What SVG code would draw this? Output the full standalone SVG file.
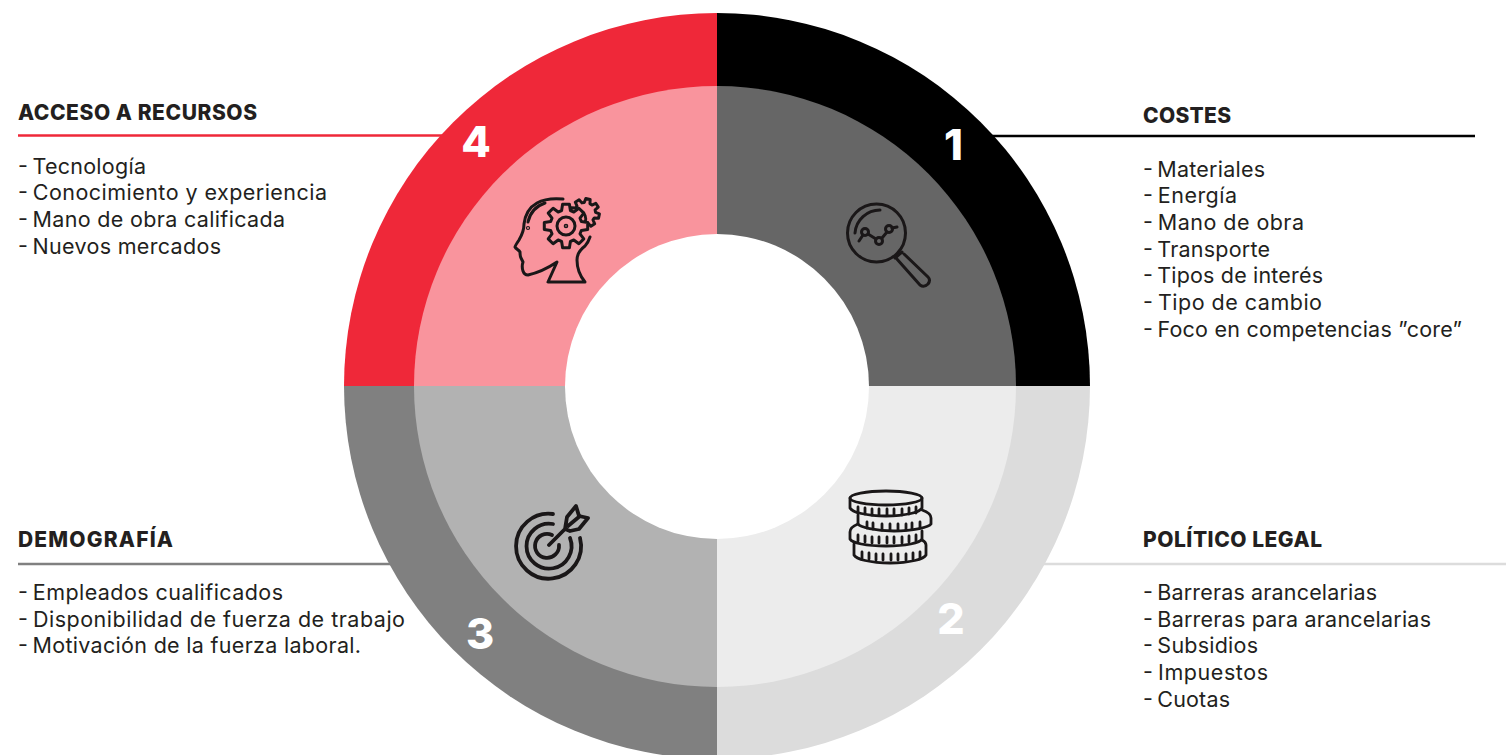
<svg xmlns="http://www.w3.org/2000/svg" width="1506" height="755" viewBox="0 0 1506 755">
<style>
text{font-family:"Inter","Liberation Sans",sans-serif;fill:#231f20}
.h{font-size:21px;font-weight:800}
.t{font-size:21.500px;font-weight:400}
.n{font-size:43px;font-weight:800;fill:#fff}
.i{fill:none;stroke:#1a1718;stroke-width:3;stroke-linecap:round;stroke-linejoin:round}
</style>
<defs>
<path id="gear" d="M15.4-4.4L21.700-3.400L21.700 3.400L15.400 4.400L14 7.800L17.800 12.900L12.900 17.800L7.800 14L4.400 15.400L3.400 21.700L-3.400 21.700L-4.400 15.400L-7.800 14L-12.900 17.800L-17.800 12.900L-14 7.800L-15.400 4.400L-21.700 3.400L-21.700-3.400L-15.400-4.400L-14-7.800L-17.800-12.900L-12.900-17.800L-7.800-14L-4.400-15.400L-3.400-21.700L3.400-21.700L4.400-15.400L7.800-14L12.900-17.800L17.800-12.900L14-7.800Z"/>
</defs>
<rect width="1506" height="755" fill="#fff"/>
<g id="ring">
<path id="q1-outer" d="M717 386V13A373 373 0 0 1 1090 386Z" fill="#000"/>
<path id="q2-outer" d="M717 386H1090A373 373 0 0 1 717 759Z" fill="#dcdcdc"/>
<path id="q3-outer" d="M717 386V759A373 373 0 0 1 344 386Z" fill="#808080"/>
<path id="q4-outer" d="M717 386H344A373 373 0 0 1 717 13Z" fill="#ef2839"/>
<path id="q1-inner" d="M717 386V86A299 300 0 0 1 1016 386Z" fill="#666"/>
<path id="q2-inner" d="M717 386H1016A299 301 0 0 1 717 687Z" fill="#ececec"/>
<path id="q3-inner" d="M717 386V687A303 301 0 0 1 414 386Z" fill="#b2b2b2"/>
<path id="q4-inner" d="M717 386H414A303 300 0 0 1 717 86Z" fill="#f9949d"/>
<ellipse cx="717" cy="386.500" rx="152" ry="152.500" fill="#fff"/>
</g>
<g id="connectors" fill="none" stroke-width="2.500">
<path d="M18 135.500H445" stroke="#ef2839"/>
<path d="M990 136H1475" stroke="#000"/>
<path d="M18 564H392" stroke="#808080"/>
<path d="M1042 564H1506" stroke="#dcdcdc"/>
</g>
<g id="node-1">
<text class="n" x="953.500" y="160" text-anchor="middle">1</text>
<text class="h" x="1143" y="123" textLength="88">COSTES</text>
<text class="t" x="1143" y="177" textLength="122">- <tspan dx="-2">Materiales</tspan></text>
<text class="t" x="1143" y="203" textLength="94">- <tspan dx="-2">Energía</tspan></text>
<text class="t" x="1143" y="230" textLength="161">- <tspan dx="-2">Mano de obra</tspan></text>
<text class="t" x="1143" y="257" textLength="127">- <tspan dx="-2">Transporte</tspan></text>
<text class="t" x="1143" y="283" textLength="180">- <tspan dx="-2">Tipos de interés</tspan></text>
<text class="t" x="1143" y="310" textLength="179">- <tspan dx="-2">Tipo de cambio</tspan></text>
<text class="t" x="1143" y="337" textLength="319">- <tspan dx="-2">Foco en competencias ”core”</tspan></text>
<g class="i">
<circle cx="876.500" cy="233" r="29"/>
<path d="M855 233C856 220 867 210 880 210"/>
<path d="M859 241L863 235M868 234L876 239M882 238L887 232M892 228L897 227"/>
<circle cx="865" cy="232" r="3.500"/><circle cx="879" cy="241" r="3.500"/><circle cx="889" cy="229" r="3.500"/>
<path d="M895 258L902 252M896 258L920 285Q924 288 928 284Q931 280 928 277L904 254"/>
</g>
</g>
<g id="node-2">
<text class="n" x="951" y="634" text-anchor="middle">2</text>
<text class="h" x="1143" y="547" textLength="179">POLÍTICO LEGAL</text>
<text class="t" x="1143" y="600" textLength="234">- <tspan dx="-2">Barreras arancelarias</tspan></text>
<text class="t" x="1143" y="627" textLength="288">- <tspan dx="-2">Barreras para arancelarias</tspan></text>
<text class="t" x="1143" y="653" textLength="115">- <tspan dx="-2">Subsidios</tspan></text>
<text class="t" x="1143" y="680" textLength="125">- <tspan dx="-2">Impuestos</tspan></text>
<text class="t" x="1143" y="707" textLength="87">- <tspan dx="-2">Cuotas</tspan></text>
<g class="i" style="stroke-width:2.800">
<ellipse cx="886" cy="498" rx="36" ry="7"/>
<path d="M850 498V508C852 512 866 516 886 516C906 516 920 512 922 508V498"/>
<path d="M858 507V513M865 508V514M872 509V515M879 509V515M887 509V515M894 509V515M902 509V515M909 508V514M916 507V513"/>
<path d="M922 510C928 512 931 515 931 518V524C929 527 914 531 894 531C875 531 860 527 858 524V515"/>
<path d="M867 522V528M873 523V529M882 524V530M890 524V530M898 524V530M906 524V530M912 523V529M920 522V528"/>
<path d="M858 524C853 526 850 529 850 532V539C852 543 866 546 886 546C906 546 920 543 922 539V531"/>
<path d="M858 535V541M865 536V542M872 537V543M879 537V543M887 537V543M894 537V543M902 537V543M909 536V542M916 535V541"/>
<path d="M854 544V555C856 559 870 563 890 563C910 563 924 559 926 555V545C926 542 924 541 922 540"/>
<path d="M862 552V558M869 553V559M876 554V560M883 554V560M891 554V560M898 554V560M906 554V560M913 553V559M920 552V558"/>
</g>
</g>
<g id="node-3">
<text class="n" x="480" y="649" text-anchor="middle">3</text>
<text class="h" x="18" y="547" textLength="155">DEMOGRAFÍA</text>
<text class="t" x="18" y="600" textLength="265">- <tspan dx="-2">Empleados cualificados</tspan></text>
<text class="t" x="18" y="627" textLength="387">- <tspan dx="-2">Disponibilidad de fuerza de trabajo</tspan></text>
<text class="t" x="18" y="653" textLength="343">- <tspan dx="-2">Motivación de la fuerza laboral.</tspan></text>
<g class="i" style="stroke-width:3.800">
<path d="M553 514A32.500 32.500 0 1 0 580 538"/>
<path d="M553 524A22.500 22.500 0 1 0 570 538"/>
<path d="M552 535A12 12 0 1 0 559 545"/>
<path d="M549 545L565 529L567 517L576 506L579 516L588 518L579 529L570 531L565 529M568 526L580 516"/>
</g>
</g>
<g id="node-4">
<text class="n" x="476" y="157" text-anchor="middle">4</text>
<text class="h" x="18" y="120" textLength="239">ACCESO A RECURSOS</text>
<text class="t" x="18" y="174" textLength="128">- <tspan dx="-2">Tecnología</tspan></text>
<text class="t" x="18" y="200" textLength="309">- <tspan dx="-2">Conocimiento y experiencia</tspan></text>
<text class="t" x="18" y="227" textLength="267">- <tspan dx="-2">Mano de obra calificada</tspan></text>
<text class="t" x="18" y="254" textLength="203">- <tspan dx="-2">Nuevos mercados</tspan></text>
<g class="i">
<path d="M563 199C552 198 544 199 537 203C528 208 525 216 524 224C524 230 522 235 519 240C517 243 515 246 515 247C516 249 519 250 520 252C520 254 520 256 521 258L523 262C522 265 522 268 523 271C524 274 526 275 528 275C537 273 548 268 557 262L548 282H585C580 276 577 268 577 260C577 253 581 249 585 246C588 243 589 240 590 237"/>
<path d="M528 222C530 213 536 206 545 203"/>
<circle cx="528" cy="228" r=".6"/>
<use href="#gear" transform="translate(585 213) scale(.66) rotate(12)" style="stroke-width:4.500"/>
<path d="M580 210C585 213 587 218 585 223"/>
<use href="#gear" transform="translate(566 226)" style="fill:#f9949d"/>
<circle cx="566" cy="226" r="9"/>
<circle cx="566" cy="226" r=".8"/>
</g>
</g>
</svg>
